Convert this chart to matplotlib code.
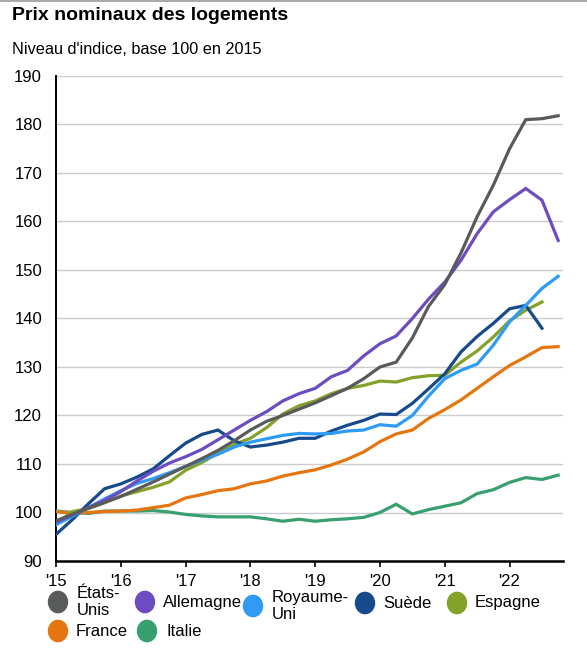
import matplotlib.pyplot as plt
from matplotlib.lines import Line2D
from matplotlib.patches import Circle

plt.rcParams['font.family'] = ['Liberation Sans', 'DejaVu Sans']

# quarterly index, 2015Q1 .. 2022Q4
years = ["'15", "'16", "'17", "'18", "'19", "'20", "'21", "'22"]

etats_unis = [98.3, 99.6, 100.9, 102.1, 103.3, 104.8, 106.3, 107.9, 109.5, 111.1, 112.8, 114.8,
              117.0, 118.8, 120.0, 121.3, 122.6, 124.1, 125.6, 127.6, 130.0, 131.0, 136.0, 142.5,
              147.0, 153.5, 161.0, 167.5, 175.0, 181.0, 181.2, 181.8]
allemagne = [98.0, 99.5, 101.0, 102.5, 104.3, 106.5, 108.5, 110.2, 111.5, 113.0, 115.0, 117.0,
             119.0, 120.8, 123.0, 124.5, 125.6, 128.0, 129.3, 132.3, 134.8, 136.4, 140.0, 144.0,
             147.5, 152.0, 157.5, 162.0, 164.5, 166.8, 164.4, 156.1]
royaume_uni = [97.5, 99.2, 101.0, 102.8, 104.5, 106.0, 107.0, 108.2, 109.5, 110.8, 112.0, 113.5,
               114.5, 115.2, 115.9, 116.3, 116.2, 116.3, 116.8, 117.0, 118.1, 117.8, 120.0, 124.0,
               127.6, 129.3, 130.6, 134.5, 139.3, 142.7, 146.2, 148.7]
suede = [95.5, 98.5, 101.8, 104.9, 105.9, 107.3, 109.0, 111.7, 114.3, 116.1, 117.0, 114.8,
         113.5, 113.9, 114.5, 115.3, 115.3, 116.8, 118.0, 119.0, 120.3, 120.2, 122.5, 125.5,
         128.6, 133.1, 136.3, 139.0, 142.0, 142.7, 138.0]
espagne = [97.5, 100.2, 100.8, 102.0, 103.4, 104.3, 105.2, 106.3, 108.7, 110.3, 112.2, 114.0,
           115.3, 117.5, 120.3, 122.0, 123.0, 124.5, 125.6, 126.2, 127.1, 126.9, 127.8, 128.2,
           128.3, 131.0, 133.3, 136.2, 139.5, 141.7, 143.4]
france = [100.2, 99.8, 100.0, 100.2, 100.3, 100.5, 101.0, 101.5, 103.0, 103.7, 104.5, 104.9,
          105.9, 106.5, 107.5, 108.2, 108.8, 109.8, 111.0, 112.5, 114.6, 116.2, 117.0, 119.4,
          121.2, 123.2, 125.6, 128.0, 130.3, 132.1, 134.0, 134.2]
italie = [100.3, 100.0, 99.8, 100.3, 100.3, 100.3, 100.4, 100.1, 99.6, 99.3, 99.1, 99.1,
          99.1, 98.7, 98.2, 98.6, 98.2, 98.5, 98.7, 99.0, 100.0, 101.7, 99.7, 100.6,
          101.3, 102.0, 103.9, 104.7, 106.2, 107.2, 106.8, 107.7]

series = [
    ('Italie', italie, '#38a06f'),
    ('France', france, '#e5760f'),
    ('Espagne', espagne, '#84a12a'),
    ('Suède', suede, '#174a8b'),
    ('Royaume-\nUni', royaume_uni, '#2f9bf5'),
    ('Allemagne', allemagne, '#6d4bc0'),
    ('États-\nUnis', etats_unis, '#595a5c'),
]

W, H = 587, 657
fig = plt.figure(figsize=(W / 100, H / 100), dpi=100)
ax = fig.add_axes([56 / W, (H - 561) / H, (563 - 56) / W, (561 - 76) / H])

for name, vals, col in series:
    ax.plot(range(len(vals)), vals, color=col, lw=2.3, solid_joinstyle='miter', zorder=3)

ax.set_xlim(0, 31.3)
ax.set_ylim(90, 190)
ax.set_yticks(range(90, 191, 10))
ax.set_xticks(range(0, 32, 4))
ax.set_xticklabels(years)
ax.grid(axis='y', color='#cccccc', lw=1)
ax.set_axisbelow(True)
for s in ['top', 'right']:
    ax.spines[s].set_visible(False)
ax.spines['left'].set_linewidth(1.4)
ax.spines['bottom'].set_linewidth(1.8)
ax.tick_params(axis='y', length=0, pad=10, labelsize=12)
ax.tick_params(axis='x', length=4, width=1.2, pad=5, labelsize=12)

fig.text(12 / W, 1 - 16 / H, 'Prix nominaux des logements', fontsize=14, fontweight='bold', va='center')
fig.text(12 / W, 1 - 49 / H, "Niveau d'indice, base 100 en 2015", fontsize=11.7, va='center')
fig.add_artist(Line2D([0, 1], [1 - 0.8 / H, 1 - 0.8 / H], color='#999999', lw=1.2))

# legend, laid out by hand
colors = {name: col for name, _, col in series}
legend_items = [
    ('États-\nUnis', 58, 602, 77),
    ('Allemagne', 145, 602, 163),
    ('Royaume-\nUni', 253, 606, 272),
    ('Suède', 365, 603, 383),
    ('Espagne', 457, 603, 475),
    ('France', 58, 631, 76),
    ('Italie', 147, 631, 166),
]
for name, cx, cy, tx in legend_items:
    fig.add_artist(Circle((cx / W, 1 - cy / H), 9.5 / W, color=colors[name],
                          transform=fig.transFigure))
    fig.text(tx / W, 1 - cy / H, name, fontsize=12, va='center', linespacing=1.2)

fig.savefig('out.png', dpi=100)
